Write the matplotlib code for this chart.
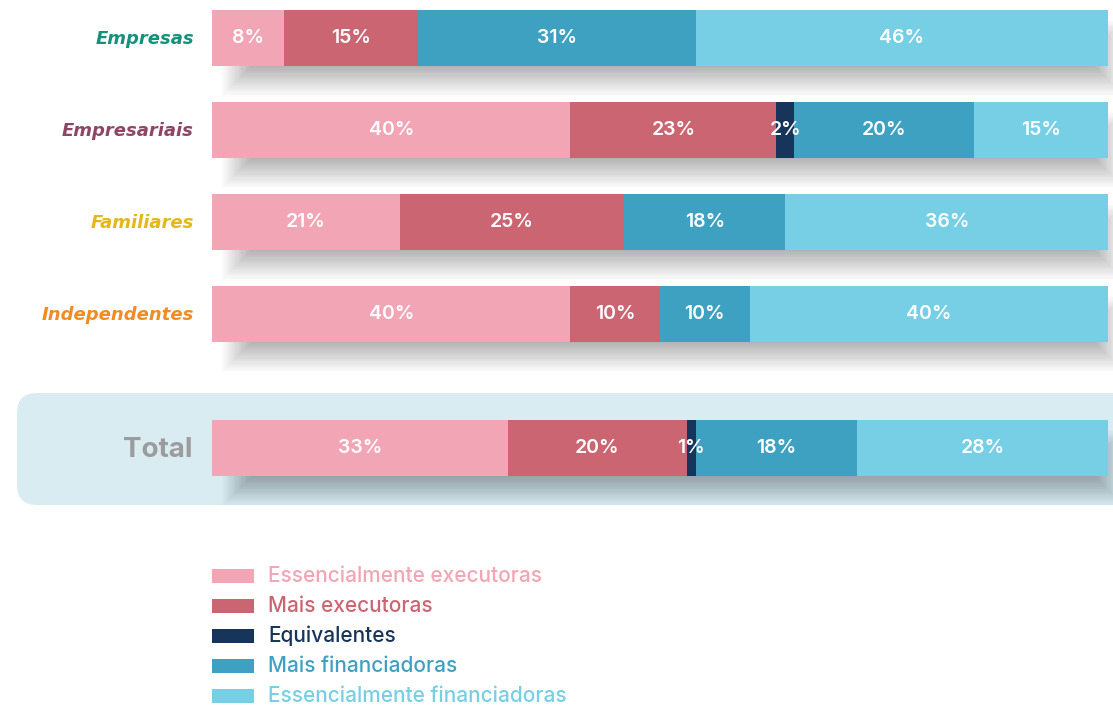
import matplotlib
matplotlib.use("Agg")
import matplotlib.pyplot as plt
from matplotlib.patches import Rectangle, FancyBboxPatch

# Data
groups = ["Empresas", "Empresariais", "Familiares", "Independentes", "Total"]
categories = ["Essencialmente executoras", "Mais executoras", "Equivalentes",
              "Mais financiadoras", "Essencialmente financiadoras"]
ess_exec = [8, 40, 21, 40, 33]
mais_exec = [15, 23, 25, 10, 20]
equivalentes = [0, 2, 0, 0, 1]
mais_fin = [31, 20, 18, 10, 18]
ess_fin = [46, 15, 36, 40, 28]

# Style
colors = ["#F2A5B4", "#CC6572", "#17345A", "#3FA1C1", "#76CFE5"]
label_colors = ["#12927A", "#8E4566", "#E5B71A", "#F08C21", "#9C9C9C"]
row_y = [38, 130, 222, 314, 448]   # pixel centre of each row
bar_h = 56
W, H = 1113, 705
X0, X1 = 212, 1108
ppx = (X1 - X0) / 100.0            # pixels per percent

fig = plt.figure(figsize=(W / 100, H / 100), dpi=100)

# background axes in pixel units for the "Total" panel
bg = fig.add_axes([0, 0, 1, 1], zorder=0)
bg.set_xlim(0, W)
bg.set_ylim(H, 0)
bg.axis("off")
bg.add_patch(FancyBboxPatch((17 + 20, 393 + 20), W + 40, 112 - 40,
                            boxstyle="round,pad=20", fc="#D9ECF2", ec="none"))

ax = fig.add_axes([X0 / W, 0, (X1 - X0) / W, 1], zorder=1)
ax.set_facecolor("none")
ax.set_xlim(0, 100)
ax.set_ylim(H, 0)
ax.axis("off")

series = [ess_exec, mais_exec, equivalentes, mais_fin, ess_fin]

for i, g in enumerate(groups):
    yc = row_y[i]
    # soft drop shadow (stack of translucent rectangles)
    for k in range(28):
        ins = k * 1.2
        ax.add_patch(Rectangle(((10 + ins) / ppx, yc - bar_h / 2 + 10 + ins),
                               100 - (2 * ins - 6) / ppx, bar_h + 20 - 2 * ins,
                               fc="#000000", alpha=0.011, ec="none", zorder=1,
                               clip_on=False))
    left = 0
    for j, vals in enumerate(series):
        v = vals[i]
        if v == 0:
            continue
        ax.barh(yc, v, left=left, height=bar_h, color=colors[j], zorder=3)
        ax.text(left + v / 2, yc, f"{v}%", ha="center", va="center",
                color="white", fontsize=14, family="Inter", weight="semibold", zorder=5)
        left += v
    if g == "Total":
        ax.text(-20 / ppx, yc + 2, g, ha="right", va="center", fontsize=20,
                family="Inter", weight="bold", color=label_colors[i], clip_on=False)
    else:
        ax.text(-18 / ppx, yc + 1, g, ha="right", va="center", fontsize=13,
                family="DejaVu Sans", weight="bold", style="oblique",
                color=label_colors[i], clip_on=False)

# legend
leg_y = [576, 606, 636, 666, 696]
for j, c in enumerate(categories):
    ax.add_patch(Rectangle((0, leg_y[j] - 7), 42 / ppx, 14, fc=colors[j], ec="none"))
    ax.text(56 / ppx, leg_y[j], c, ha="left", va="center", fontsize=15,
            family="Inter", weight="medium", color=colors[j])

fig.savefig("out.png", dpi=100)
